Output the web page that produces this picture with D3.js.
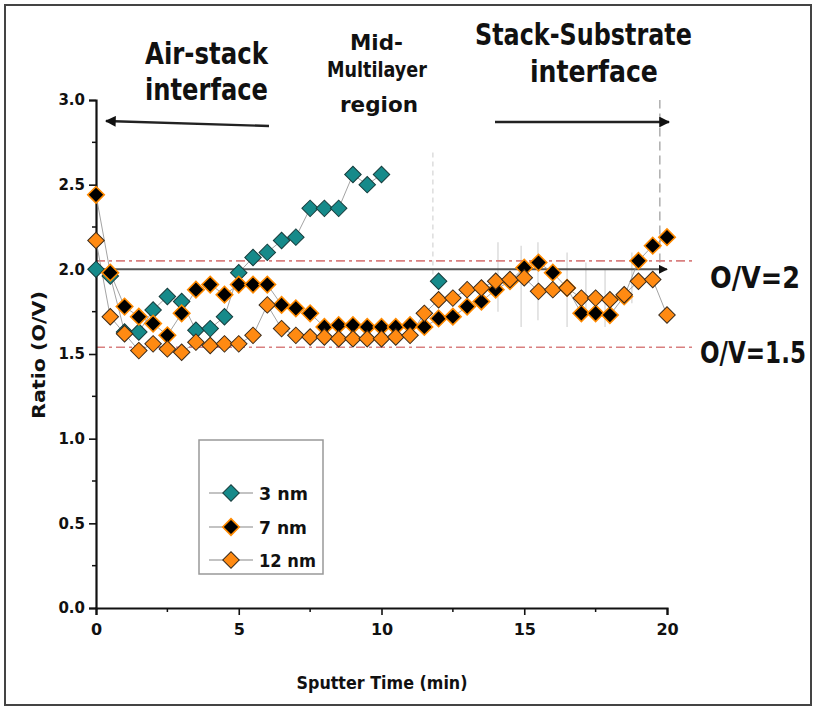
<!DOCTYPE html>
<html><head><meta charset="utf-8">
<script src="https://cdn.jsdelivr.net/npm/d3@7"></script>
<style>body{margin:0;background:#fff}svg text{font-family:"DejaVu Sans",sans-serif;font-weight:bold;fill:#111}</style>
</head><body><svg id="c" width="814" height="709"></svg>
<script>
// ---- data ----
const times = d3.range(0, 20.01, 0.5);
const ratio3nm = [2.00,1.96,1.63,1.63,1.76,1.84,1.81,1.64,1.65,1.72,1.98,2.07,2.10,2.17,2.19,2.36,2.36,2.36,2.56,2.50,2.56,null,null,null,1.93];
const ratio7nm = [2.44,1.98,1.78,1.72,1.68,1.61,1.74,1.88,1.91,1.85,1.91,1.91,1.91,1.79,1.77,1.74,1.66,1.67,1.67,1.66,1.66,1.66,1.67,1.66,1.71,1.72,1.78,1.81,1.88,1.93,2.01,2.04,1.98,1.89,1.74,1.74,1.73,1.84,2.05,2.14,2.19];
const ratio12nm = [2.17,1.72,1.62,1.52,1.56,1.53,1.51,1.57,1.55,1.56,1.56,1.61,1.79,1.65,1.61,1.60,1.60,1.59,1.59,1.59,1.59,1.60,1.61,1.74,1.82,1.83,1.88,1.89,1.93,1.94,1.95,1.87,1.88,1.89,1.83,1.83,1.82,1.85,1.93,1.94,1.73];
const seriesNames = ["3 nm","7 nm","12 nm"];
const xTicks = [0,5,10,15,20];
const yTicks = [0,0.5,1.0,1.5,2.0,2.5,3.0];
const refLevels = [2.05,1.54];       // red dash-dot guides
const stoichLine = 2.0;              // O/V = 2 arrow line
const faintBars = [[11.8,1.97,2.70],[14.08,1.75,2.16],[14.89,1.66,2.14],[15.48,1.70,2.16],[16.5,1.66,2.10],[17.16,1.72,2.04],[17.83,1.66,2.0],[18.77,1.80,2.10]];
const dashedBar = [19.75,2.04,3.0];

const svg = d3.select("#c");
const x = d3.scaleLinear().domain([0,20]).range([96,667]);
const y = d3.scaleLinear().domain([0,3]).range([608,100]);

// text helper: scales glyphs horizontally to a target width
function fitText(sel, str, px, py, size, width, anchor){
  const t = sel.append("text").attr("font-size",size).text(str);
  const nat = t.node().getComputedTextLength();
  const sx = width ? width/nat : 1;
  const w = nat*sx;
  const x0 = anchor==="middle" ? px - w/2 : px;
  t.attr("transform",`translate(${x0},${py}) scale(${sx},1)`);
  return t;
}

// frame
svg.append("rect").attr("x",5).attr("y",5).attr("width",806).attr("height",700)
  .attr("fill","none").attr("stroke","#444").attr("stroke-width",2);

const defs = svg.append("defs");
defs.append("marker").attr("id","ah").attr("viewBox","0 0 10 10").attr("refX",9).attr("refY",5)
  .attr("markerWidth",4.5).attr("markerHeight",4.5).attr("orient","auto-start-reverse")
  .append("path").attr("d","M0,0L10,5L0,10z").attr("fill","#111");
defs.append("clipPath").attr("id","pc").append("rect").attr("x",86).attr("y",100).attr("width",592).attr("height",512);

// faint vertical guides
svg.append("g").selectAll("line").data(faintBars).join("line")
  .attr("x1",d=>x(d[0])).attr("x2",d=>x(d[0])).attr("y1",d=>y(d[1])).attr("y2",d=>y(d[2]))
  .attr("stroke","#d4d4d4").attr("stroke-width",1.2).attr("stroke-dasharray",(d,i)=>i===0?"5,4":null);
svg.append("line").attr("x1",x(dashedBar[0])).attr("x2",x(dashedBar[0])).attr("y1",y(dashedBar[1])).attr("y2",y(dashedBar[2]))
  .attr("stroke","#999").attr("stroke-width",1.2).attr("stroke-dasharray","9,5");

// red dash-dot reference lines
svg.append("g").selectAll("line").data(refLevels).join("line")
  .attr("x1",x(0)).attr("x2",695).attr("y1",d=>y(d)).attr("y2",d=>y(d))
  .attr("stroke","#d98080").attr("stroke-width",1.6).attr("stroke-dasharray","9,4,3,4");

// O/V=2 line with arrow
svg.append("line").attr("x1",x(0)).attr("x2",x(20)).attr("y1",y(stoichLine)).attr("y2",y(stoichLine))
  .attr("stroke","#555").attr("stroke-width",2).attr("marker-end","url(#ah)");

// axes
const yAxis = d3.axisLeft(y).tickValues(yTicks).tickFormat(d3.format(".1f")).tickSize(7).tickPadding(4);
const ya = svg.append("g").attr("transform",`translate(${x(0)},0)`).call(yAxis);
const xAxis = d3.axisBottom(x).tickValues(xTicks).tickFormat(d3.format("d")).tickSize(7).tickPadding(9);
const xa = svg.append("g").attr("transform",`translate(0,${y(0)})`).call(xAxis);
[ya,xa].forEach(g=>{g.select(".domain").attr("stroke","#111").attr("stroke-width",2.2);
  g.selectAll(".tick line").attr("stroke","#111").attr("stroke-width",1.6);
  g.selectAll("text").attr("font-size",15).attr("fill","#111");});
xa.selectAll("text").attr("font-size",16);
// minor ticks
svg.append("g").selectAll("line").data(d3.range(0.25,3,0.5)).join("line")
  .attr("x1",x(0)-4).attr("x2",x(0)).attr("y1",d=>y(d)).attr("y2",d=>y(d)).attr("stroke","#111").attr("stroke-width",1.5);
svg.append("g").selectAll("line").data(d3.range(2.5,20,5)).join("line")
  .attr("y1",y(0)).attr("y2",y(0)+4).attr("x1",d=>x(d)).attr("x2",d=>x(d)).attr("stroke","#111").attr("stroke-width",1.5);

// axis titles
fitText(svg,"Sputter Time (min)",382,689,18,171,"middle");
const yt = svg.append("g").attr("transform","translate(45,355) rotate(-90)");
fitText(yt,"Ratio (O/V)",0,0,17,128,"middle");

// series
const diamond = d3.symbol().type(d3.symbolSquare).size(136);
const styles = [
  {fill:"#168a8a", stroke:"#163c3c", sw:1},
  {fill:"#000", stroke:"#ff8a00", sw:1.6},
  {fill:"#ff8a12", stroke:"#3a2a1a", sw:1}
];
const data = [ratio3nm, ratio7nm, ratio12nm];
const plot = svg.append("g").attr("clip-path","url(#pc)");
const line = d3.line().defined(d=>d[1]!=null).x(d=>x(d[0])).y(d=>y(d[1]));
data.forEach((vals,i)=>{
  const pts = vals.map((v,j)=>[times[j],v]);
  plot.append("path").datum(pts).attr("d",line).attr("fill","none").attr("stroke","#999").attr("stroke-width",0.9);
});
data.forEach((vals,i)=>{
  const pts = vals.map((v,j)=>[times[j],v]).filter(d=>d[1]!=null);
  plot.append("g").selectAll("path").data(pts).join("path")
    .attr("transform",d=>`translate(${x(d[0])},${y(d[1])}) rotate(45)`).attr("d",diamond)
    .attr("fill",styles[i].fill).attr("stroke",styles[i].stroke).attr("stroke-width",styles[i].sw);
});

// legend
const lg = svg.append("g");
lg.append("rect").attr("x",199).attr("y",440).attr("width",124).attr("height",134)
  .attr("fill","#fff").attr("stroke","#999").attr("stroke-width",1.5);
const ly = [493,527,560];
seriesNames.forEach((n,i)=>{
  lg.append("line").attr("x1",209).attr("x2",253).attr("y1",ly[i]).attr("y2",ly[i]).attr("stroke","#888").attr("stroke-width",1.2);
  lg.append("path").attr("transform",`translate(231,${ly[i]}) rotate(45)`).attr("d",diamond)
    .attr("fill",styles[i].fill).attr("stroke",styles[i].stroke).attr("stroke-width",styles[i].sw);
  fitText(lg,n,259,ly[i]+7,18,[49,48,57][i]);
});

// annotations
const ann = [
  ["Air-stack",145,64,31,123],["interface",145,100,31,123],
  ["Mid-",350,50,22,53],["Multilayer",327,77,22,100],["region",340,112,22,78],
  ["Stack-Substrate",475,45,31,217],["interface",530,82,31,128],
  ["O/V=2",710,288,31,90],["O/V=1.5",700,363,31,106]
];
ann.forEach(a=>fitText(svg,a[0],a[1],a[2],a[3],a[4]));

// top arrows
svg.append("line").attr("x1",269).attr("y1",126).attr("x2",106).attr("y2",121)
  .attr("stroke","#222").attr("stroke-width",2.4).attr("marker-end","url(#ah)");
svg.append("line").attr("x1",495).attr("y1",122).attr("x2",669).attr("y2",122)
  .attr("stroke","#222").attr("stroke-width",2.4).attr("marker-end","url(#ah)");
</script></body></html>
